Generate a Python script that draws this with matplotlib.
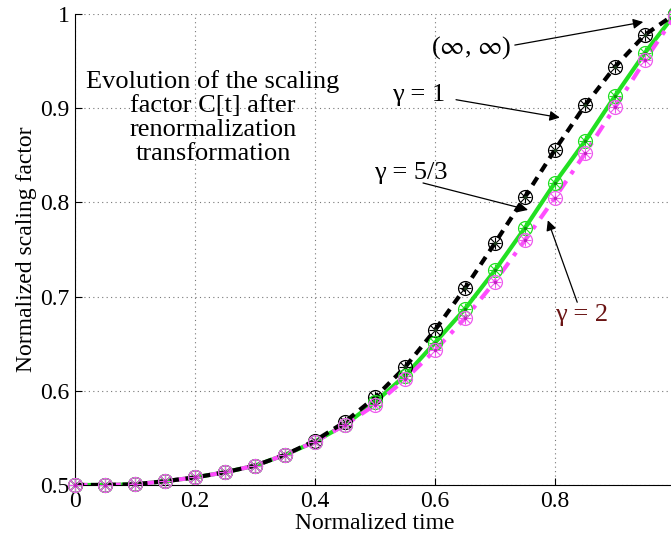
import numpy as np
import matplotlib.pyplot as plt

plt.rcParams['font.family'] = ['Liberation Serif', 'DejaVu Serif']
plt.rcParams['mathtext.fontset'] = 'stix'

# normalized time samples
t = [0.0, 0.05, 0.10, 0.15, 0.20, 0.25, 0.30, 0.35, 0.40, 0.45, 0.50,
     0.55, 0.60, 0.65, 0.70, 0.75, 0.80, 0.85, 0.90, 0.95, 1.0]

# gamma = 1 / (inf, inf)  (black dashed)
c_g1 = [0.500, 0.500, 0.5007, 0.504, 0.508, 0.5135, 0.5205, 0.532, 0.547, 0.567, 0.593,
        0.625, 0.6645, 0.709, 0.757, 0.806, 0.856, 0.903, 0.944, 0.978, 1.0]
# gamma = 5/3 (green solid)
c_g53 = [0.500, 0.500, 0.5007, 0.504, 0.508, 0.5135, 0.5205, 0.532, 0.546, 0.564, 0.588,
         0.616, 0.651, 0.687, 0.728, 0.773, 0.821, 0.865, 0.913, 0.959, 1.0]
# gamma = 2 (magenta dash-dot)
c_g2 = [0.500, 0.500, 0.5007, 0.504, 0.508, 0.5135, 0.5205, 0.532, 0.546, 0.5637, 0.585,
        0.612, 0.643, 0.677, 0.716, 0.760, 0.805, 0.852, 0.901, 0.951, 0.998]

xticks = [0, 0.2, 0.4, 0.6, 0.8, 1]
xticklabels = ['0', '0.2', '0.4', '0.6', '0.8', '1']
yticks = [0.5, 0.6, 0.7, 0.8, 0.9, 1.0]
yticklabels = ['0.5', '0.6', '0.7', '0.8', '0.9', '1']

fig = plt.figure(figsize=(6.71, 5.40), dpi=100)
ax = fig.add_axes([0.1118, 0.1019, 0.8942, 0.8722])

green = '#22e022'
mag = '#ff4cff'

# lines
ax.plot(t, c_g53, '-', color=green, lw=3.0, zorder=3)
ax.plot(t, c_g2, color=mag, lw=3.0, linestyle=(0, (3, 2, 1, 2)), zorder=3)
ax.plot(t, c_g1, color='k', lw=3.0, linestyle=(0, (2.2, 1.6)), zorder=4)

# circle-asterisk markers
def circ_star(y, col, center, z):
    ax.plot(t, y, 'o', ms=10, mfc='none', mec=col, mew=0.9, zorder=z, clip_on=False)
    ax.plot(t, y, '+', ms=9, mec=col, mew=0.8, zorder=z, clip_on=False)
    ax.plot(t, y, 'x', ms=6.5, mec=col, mew=0.8, zorder=z, clip_on=False)
    ax.plot(t, y, '.', ms=3, color=center, zorder=z, clip_on=False)

circ_star(c_g1, 'k', '#1a3a1a', 5)
circ_star(c_g53, green, '#138a13', 6)
circ_star(c_g2, '#ee5cee', '#c020c0', 7)

ax.set_xlim(0, 1)
ax.set_ylim(0.5, 1)
ax.set_xticks(xticks)
ax.set_xticklabels(xticklabels)
ax.set_yticks(yticks)
ax.set_yticklabels(yticklabels)
ax.tick_params(direction='in', length=5, width=0.8, labelsize=17, pad=4)
ax.spines['top'].set_visible(False)
ax.spines['right'].set_visible(False)
ax.grid(True, color='#777777', linestyle=(0, (1, 3)), linewidth=0.8)
ax.set_axisbelow(True)

ax.set_xlabel('Normalized time', fontsize=17, labelpad=1)
ax.set_ylabel('Normalized scaling factor', fontsize=17, labelpad=2)

ax.text(0.23, 0.890, 'Evolution of the scaling\nfactor C[t] after\nrenormalization\ntransformation',
        ha='center', va='center', fontsize=19, linespacing=1.12)

arrow = dict(arrowstyle='-|>', color='k', lw=0.9, mutation_scale=15,
             shrinkA=0, shrinkB=0)
ax.annotate('', xy=(0.947, 0.9915), xytext=(0.733, 0.967), arrowprops=arrow)
ax.text(0.66, 0.964, r'($\infty$, $\infty$)', ha='center', va='center', fontsize=19)
ax.annotate('', xy=(0.808, 0.890), xytext=(0.635, 0.909), arrowprops=arrow)
ax.text(0.573, 0.914, 'γ = 1', ha='center', va='center', fontsize=19)
ax.annotate('', xy=(0.755, 0.792), xytext=(0.58, 0.8206), arrowprops=arrow)
ax.text(0.56, 0.831, 'γ = 5/3', ha='center', va='center', fontsize=19)
ax.annotate('', xy=(0.788, 0.781), xytext=(0.837, 0.694), arrowprops=arrow)
ax.text(0.845, 0.680, 'γ = 2', ha='center', va='center', fontsize=19, color='#6a1414')

fig.savefig('out.png', dpi=100)
